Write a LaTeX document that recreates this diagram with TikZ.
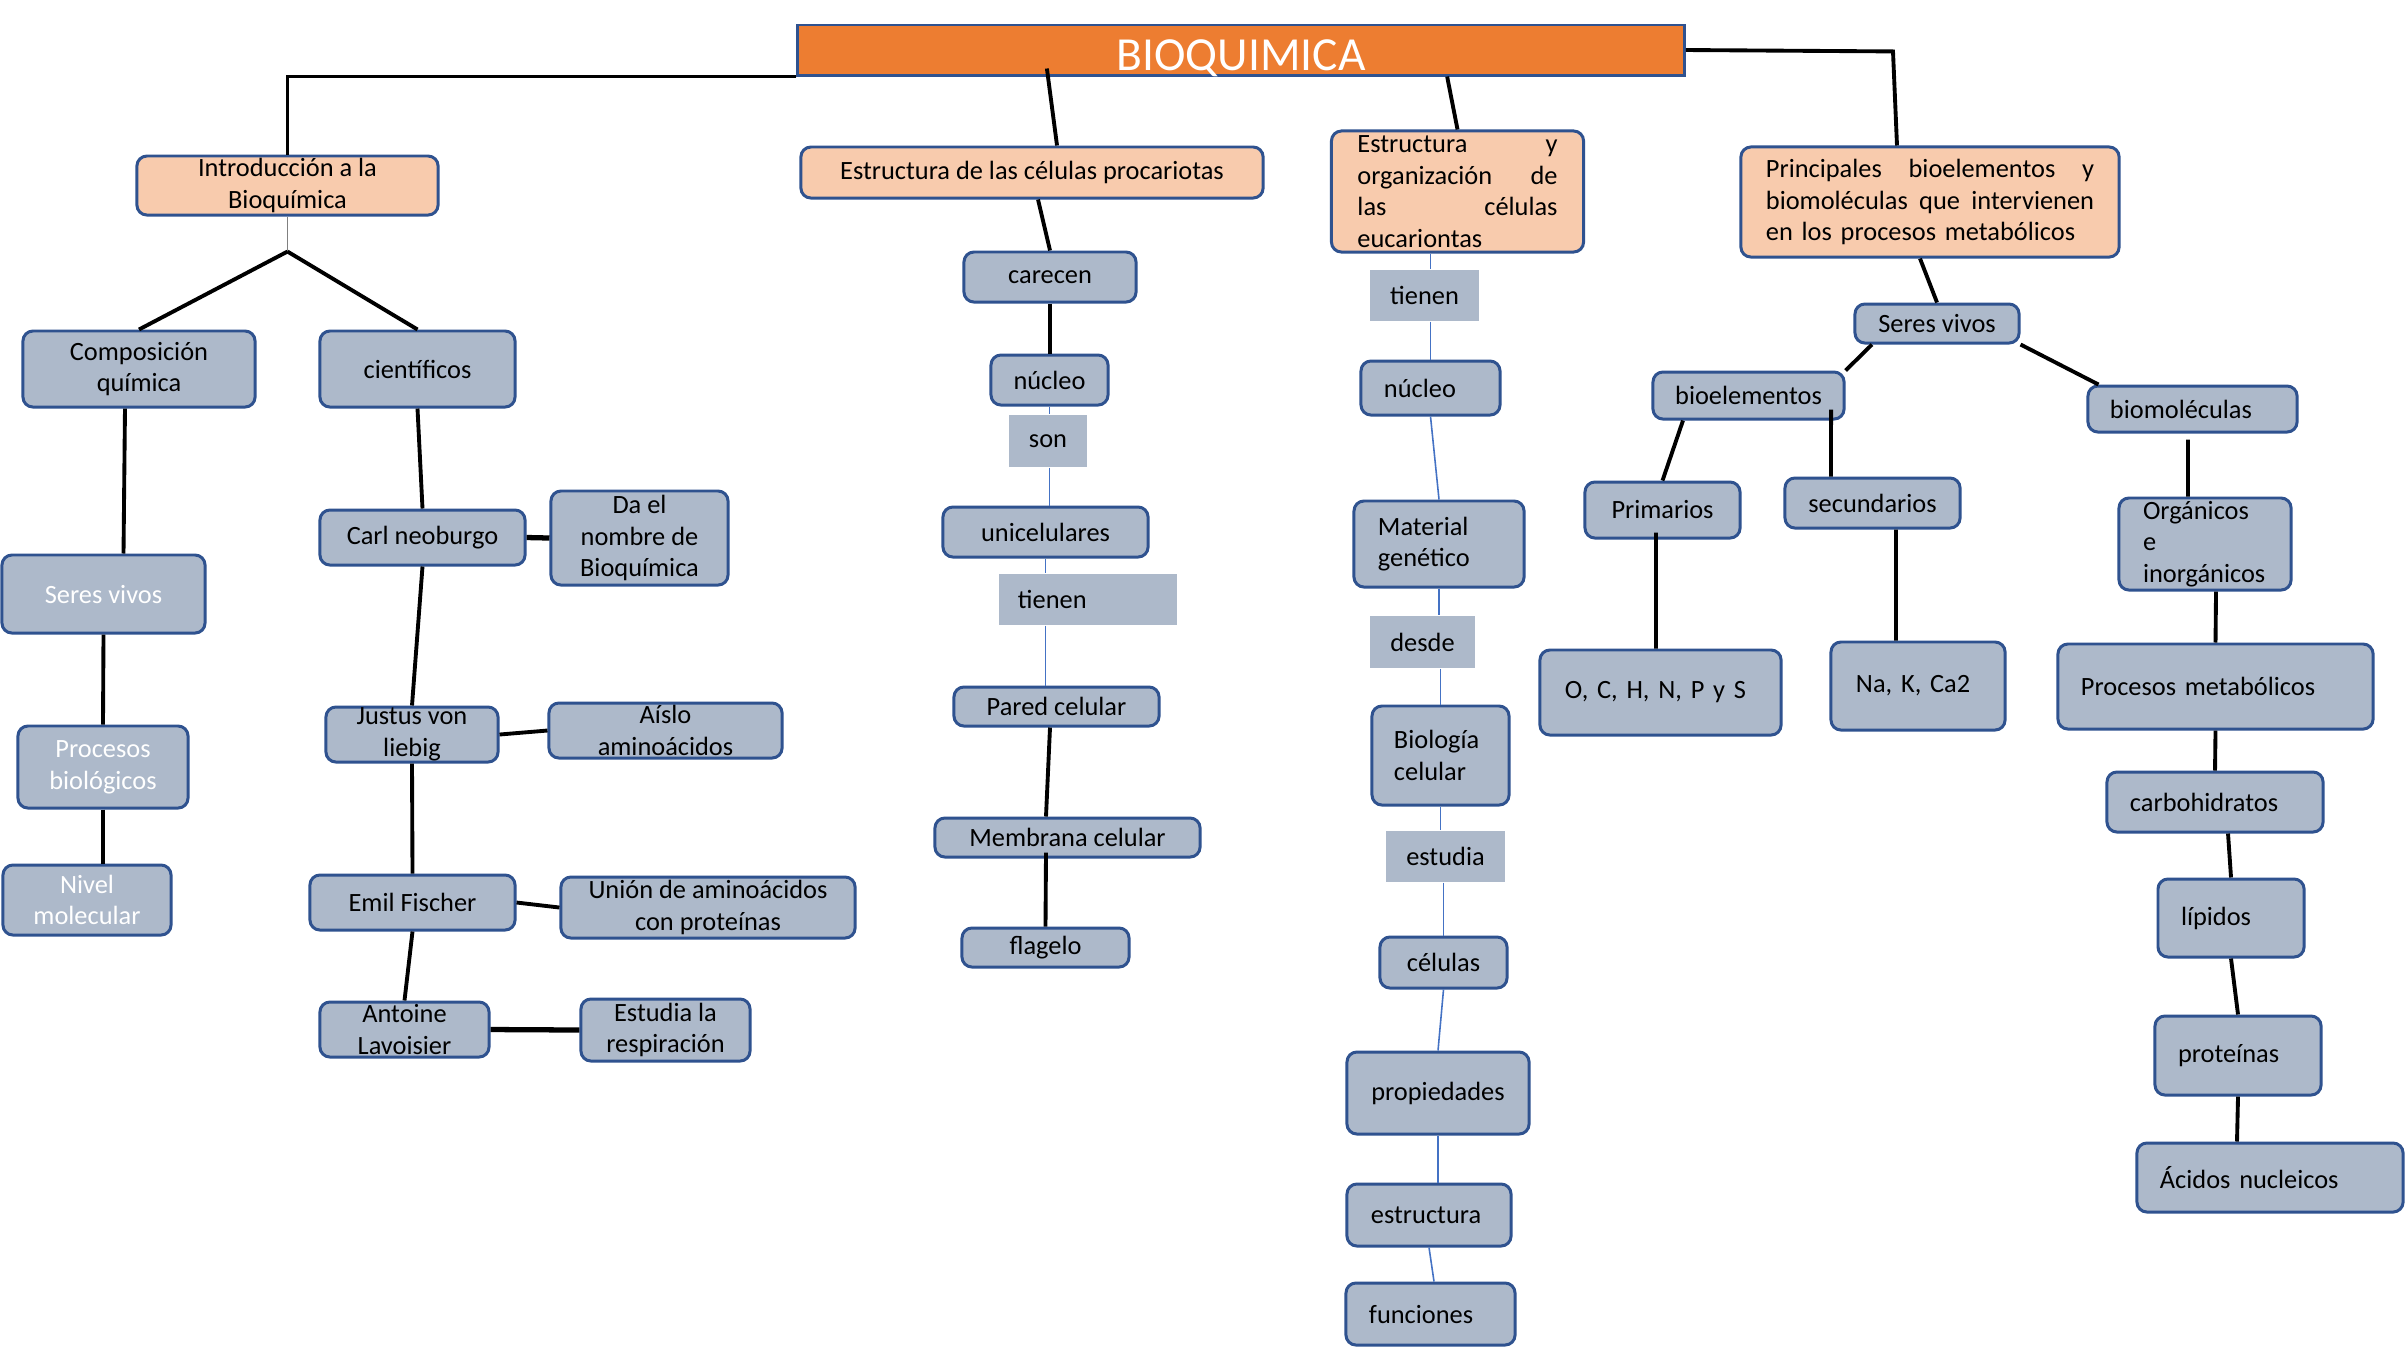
\documentclass[tikz,border=0pt]{standalone}
\usepackage{fontspec}
\setmainfont{Carlito}
\frenchspacing
\definecolor{celeste}{HTML}{ADB9CA}
\definecolor{borde}{HTML}{2F528F}
\definecolor{durazno}{HTML}{F8CBAD}
\definecolor{naranja}{HTML}{ED7D31}
\definecolor{azul}{HTML}{4472C4}
\begin{document}
\begin{tikzpicture}[x=0.01cm, y=-0.01cm]
        \tikzstyle{caja}=[draw=borde, fill=celeste, rounded corners=0.1cm, line width=0.85pt, inner xsep=2pt, inner ysep=0pt, align=center, font=\fontsize{7.5}{9}\selectfont]
        \tikzstyle{tema}=[caja, fill=durazno]
        \tikzstyle{enlace}=[fill=celeste, inner xsep=2pt, inner ysep=0pt, font=\fontsize{7.5}{9}\selectfont]
        \tikzstyle{titulo}=[draw=borde, fill=naranja, line width=0.85pt, inner sep=0pt, text=white, font=\fontsize{13.5}{16}\selectfont]
        \tikzstyle{blanco}=[text=white]
        \tikzstyle{izq}=[align=left]
        \tikzstyle{linea}=[line width=1.1pt]
        \tikzstyle{fina}=[draw=azul, line width=0.45pt]

        \useasboundingbox[fill=white] (0,0) rectangle (2407,1347);

        \node[titulo, minimum width=8.86cm, minimum height=0.5cm, text height=0.40cm, text depth=0cm] (bioq) at (1241,50) {BIOQUIMICA};

        % temas
        \node[tema, minimum width=3.01cm, minimum height=0.59cm] (intro) at (287.5,185.5) {Introducción a la\\Bioquímica};
        \node[tema, minimum width=4.62cm, minimum height=0.51cm] (proc) at (1032,172.5) {Estructura de las células procariotas};
        \node[tema, izq, text width=2.0cm, inner xsep=0.26cm, minimum height=1.21cm] (euc) at (1457.5,191.5) {Estructura\hfill y\\organización\hfill de\\las\hfill células\\eucariontas};
        \node[tema, izq, text width=3.28cm, inner xsep=0.25cm, minimum height=1.1cm] (princ) at (1930,202) {Principales\hfill bioelementos\hfill y\\biomoléculas\hfill que\hfill intervienen\\en los procesos metabólicos};

        % introduccion
        \node[caja, minimum width=2.32cm, minimum height=0.76cm] (comp) at (139,369) {Composición\\química};
        \node[caja, minimum width=1.95cm, minimum height=0.76cm] (cient) at (417.5,369) {científicos};
        \node[caja, blanco, minimum width=2.03cm, minimum height=0.78cm] (seresA) at (103.5,594) {Seres vivos};
        \node[caja, blanco, minimum width=1.70cm, minimum height=0.82cm] (procbio) at (103,767) {Procesos\\biológicos};
        \node[caja, blanco, minimum width=1.68cm, minimum height=0.70cm] (nivel) at (87,900) {Nivel\\molecular};
        \node[caja, minimum width=2.05cm, minimum height=0.55cm] (carl) at (422.5,537.5) {Carl neoburgo};
        \node[caja, minimum width=1.77cm, minimum height=0.94cm] (dael) at (639.5,538) {Da el\\nombre de\\Bioquímica};
        \node[caja, minimum width=1.72cm, minimum height=0.55cm] (justus) at (412,734.5) {Justus von\\liebig};
        \node[caja, minimum width=2.33cm, minimum height=0.55cm] (aislo) at (665.5,730.5) {Aíslo\\aminoácidos};
        \node[caja, minimum width=2.05cm, minimum height=0.55cm] (emil) at (412.5,902.5) {Emil Fischer};
        \node[caja, minimum width=2.94cm, minimum height=0.61cm] (union) at (708,907.5) {Unión de aminoácidos\\con proteínas};
        \node[caja, minimum width=1.69cm, minimum height=0.55cm] (antoine) at (404.5,1029.5) {Antoine\\Lavoisier};
        \node[caja, minimum width=1.69cm, minimum height=0.62cm] (resp) at (665.5,1030) {Estudia la\\respiración};

        % procariotas
        \node[caja, minimum width=1.72cm, minimum height=0.50cm] (carecen) at (1050,277) {carecen};
        \node[caja, minimum width=1.17cm, minimum height=0.50cm] (nucA) at (1049.5,380) {núcleo};
        \node[enlace, minimum width=0.78cm, minimum height=0.52cm] (son) at (1048,441) {son};
        \node[caja, minimum width=2.05cm, minimum height=0.50cm] (unic) at (1045.5,532) {unicelulares};
        \node[enlace, izq, text width=1.40cm, inner xsep=0.19cm, minimum height=0.51cm] (tieneA) at (1088,599.5) {tienen};
        \node[caja, minimum width=2.05cm, minimum height=0.39cm] (pared) at (1056.5,706.5) {Pared celular};
        \node[caja, minimum width=2.65cm, minimum height=0.39cm] (memb) at (1067.5,837.5) {Membrana celular};
        \node[caja, minimum width=1.67cm, minimum height=0.39cm] (flag) at (1045.5,947.5) {flagelo};

        % eucariontas
        \node[enlace, minimum width=1.09cm, minimum height=0.51cm] (tieneB) at (1424.5,295.5) {tienen};
        \node[caja, izq, text width=0.93cm, inner xsep=0.23cm, minimum height=0.54cm] (nucB) at (1430.5,388) {núcleo};
        \node[caja, izq, text width=1.22cm, inner xsep=0.24cm, minimum height=0.86cm] (mat) at (1439,544) {Material\\genético};
        \node[enlace, minimum width=1.05cm, minimum height=0.52cm] (desde) at (1422.5,642) {desde};
        \node[caja, izq, text width=0.93cm, inner xsep=0.22cm, minimum height=0.99cm] (bio) at (1440.5,755.5) {Biología\\celular};
        \node[enlace, minimum width=1.19cm, minimum height=0.51cm] (estudia) at (1445.5,856.5) {estudia};
        \node[caja, minimum width=1.27cm, minimum height=0.51cm] (cel) at (1443.5,962.5) {células};
        \node[caja, minimum width=1.82cm, minimum height=0.82cm] (prop) at (1438,1093) {propiedades};
        \node[caja, izq, text width=1.16cm, inner xsep=0.24cm, minimum height=0.62cm] (estr) at (1429,1215) {estructura};
        \node[caja, izq, text width=1.23cm, inner xsep=0.23cm, minimum height=0.62cm] (func) at (1430.5,1314) {funciones};

        % bioelementos y biomoleculas
        \node[caja, minimum width=1.64cm, minimum height=0.39cm] (seresB) at (1937,323.5) {Seres vivos};
        \node[caja, minimum width=1.91cm, minimum height=0.47cm] (bioel) at (1748.5,395.5) {bioelementos};
        \node[caja, izq, text width=1.65cm, inner xsep=0.22cm, minimum height=0.46cm] (biomol) at (2192.5,409) {biomoléculas};
        \node[caja, minimum width=1.55cm, minimum height=0.56cm] (prim) at (1662.5,510) {Primarios};
        \node[caja, minimum width=1.75cm, minimum height=0.50cm] (secu) at (1872.5,503) {secundarios};
        \node[caja, izq, text width=1.24cm, inner xsep=0.24cm, minimum height=0.92cm] (org) at (2205,544) {Orgánicos\\e\\inorgánicos};
        \node[caja, izq, text width=1.91cm, inner xsep=0.25cm, minimum height=0.85cm] (ochn) at (1660.5,692.5) {O, C, H, N, P y S};
        \node[caja, izq, text width=1.24cm, inner xsep=0.25cm, minimum height=0.88cm] (nak) at (1918,686) {Na, K, Ca2};
        \node[caja, izq, text width=2.69cm, inner xsep=0.23cm, minimum height=0.85cm] (procmet) at (2215.5,686.5) {Procesos metabólicos};
        \node[caja, izq, text width=1.70cm, inner xsep=0.23cm, minimum height=0.60cm] (carb) at (2215,802) {carbohidratos};
        \node[caja, izq, text width=1.00cm, inner xsep=0.23cm, minimum height=0.78cm] (lip) at (2231,918) {lípidos};
        \node[caja, izq, text width=1.20cm, inner xsep=0.23cm, minimum height=0.79cm] (prot) at (2238,1055.5) {proteínas};
        \node[caja, izq, text width=2.20cm, inner xsep=0.23cm, minimum height=0.69cm] (acid) at (2270,1177.5) {Ácidos nucleicos};

        \coordinate (split) at ([yshift=-0.35cm]intro.south);

        \draw[linea] (bioq.south west) -| (intro.north);
        \draw[linea] ([xshift=-1.94cm,yshift=0.08cm]bioq.south) -- ([xshift=0.25cm]proc.north);
        \draw[linea] ([xshift=2.06cm]bioq.south) -- (euc.north);
        \draw[linea] (bioq.east) -- ([xshift=-0.37cm,yshift=0.94cm]princ.north) -- ([xshift=-0.33cm]princ.north);

        \draw[draw=gray, line width=0.5pt] (intro.south) -- (split);
        \draw[linea] (split) -- (comp.north);
        \draw[linea] (split) -- (cient.north);
        \draw[linea] ([xshift=-0.14cm]comp.south) -- ([xshift=0.2cm]seresA.north);
        \draw[linea] (seresA.south) -- (procbio.north);
        \draw[linea] (procbio.south) -- (procbio.south |- nivel.north);
        \draw[linea] (cient.south) -- (carl.north);
        \draw[line width=1.5pt] (carl.east) -- (dael.west);
        \draw[linea] (carl.south) -- (justus.north);
        \draw[linea] (justus.east) -- (aislo.west);
        \draw[linea] (justus.south) -- (emil.north);
        \draw[linea] (emil.east) -- (union.west);
        \draw[linea] (emil.south) -- (antoine.north);
        \draw[line width=1.5pt] (antoine.east) -- (resp.west);

        \draw[linea] ([xshift=0.06cm]proc.south) -- (carecen.north);
        \draw[linea] (carecen.south) -- (carecen.south |- nucA.north);
        \draw[fina] (nucA.south) -- (nucA.south |- son.north);
        \draw[fina] (nucA.south |- son.south) -- (nucA.south |- unic.north);
        \draw[fina] (unic.south) -- (unic.south |- tieneA.north);
        \draw[fina] (unic.south |- tieneA.south) -- (unic.south |- pared.north);
        \draw[linea] ([xshift=-0.065cm]pared.south) -- ([xshift=-0.215cm]memb.north);
        \draw[linea] ([xshift=-0.215cm,yshift=0.06cm]memb.south) -- (flag.north);

        \draw[fina] (nucB.north |- euc.south) -- (nucB.north |- tieneB.north);
        \draw[fina] (nucB.north |- tieneB.south) -- (nucB.north);
        \draw[fina] (nucB.south) -- (mat.north);
        \draw[fina] (mat.south) -- (mat.south |- desde.north);
        \draw[fina] (bio.north |- desde.south) -- (bio.north);
        \draw[fina] (bio.south) -- (bio.south |- estudia.north);
        \draw[fina] (cel.north |- estudia.south) -- (cel.north);
        \draw[fina] (cel.south) -- (prop.north);
        \draw[fina] (prop.south) -- (prop.south |- estr.north);
        \draw[fina] (estr.south) -- ([xshift=0.035cm]func.north);

        \draw[linea] ([xshift=-0.1cm]princ.south) -- (seresB.north);
        \draw[linea] ([xshift=-0.65cm]seresB.south) -- (bioel.north east);
        \draw[linea] (seresB.south east) -- ([xshift=0.12cm]biomol.north west);
        \draw[linea] ([xshift=-0.655cm]bioel.south) -- (prim.north);
        \draw[linea] ([xshift=0.825cm,yshift=0.11cm]bioel.south) -- ([xshift=-0.415cm]secu.north);
        \draw[linea] ([xshift=-0.045cm,yshift=-0.06cm]biomol.south) -- ([xshift=-0.17cm]org.north);
        \draw[linea] ([xshift=-0.065cm,yshift=0.07cm]prim.south) -- ([xshift=-0.045cm]ochn.north);
        \draw[linea] ([xshift=0.235cm]secu.south) -- ([xshift=-0.22cm]nak.north);
        \draw[linea] ([xshift=0.11cm]org.south) -- (procmet.north);
        \draw[linea] (procmet.south) -- (carb.north);
        \draw[linea] ([xshift=0.13cm]carb.south) -- (lip.north);
        \draw[linea] (lip.south) -- (prot.north);
        \draw[linea] (prot.south) -- ([xshift=-0.33cm]acid.north);
\end{tikzpicture}
\end{document}
